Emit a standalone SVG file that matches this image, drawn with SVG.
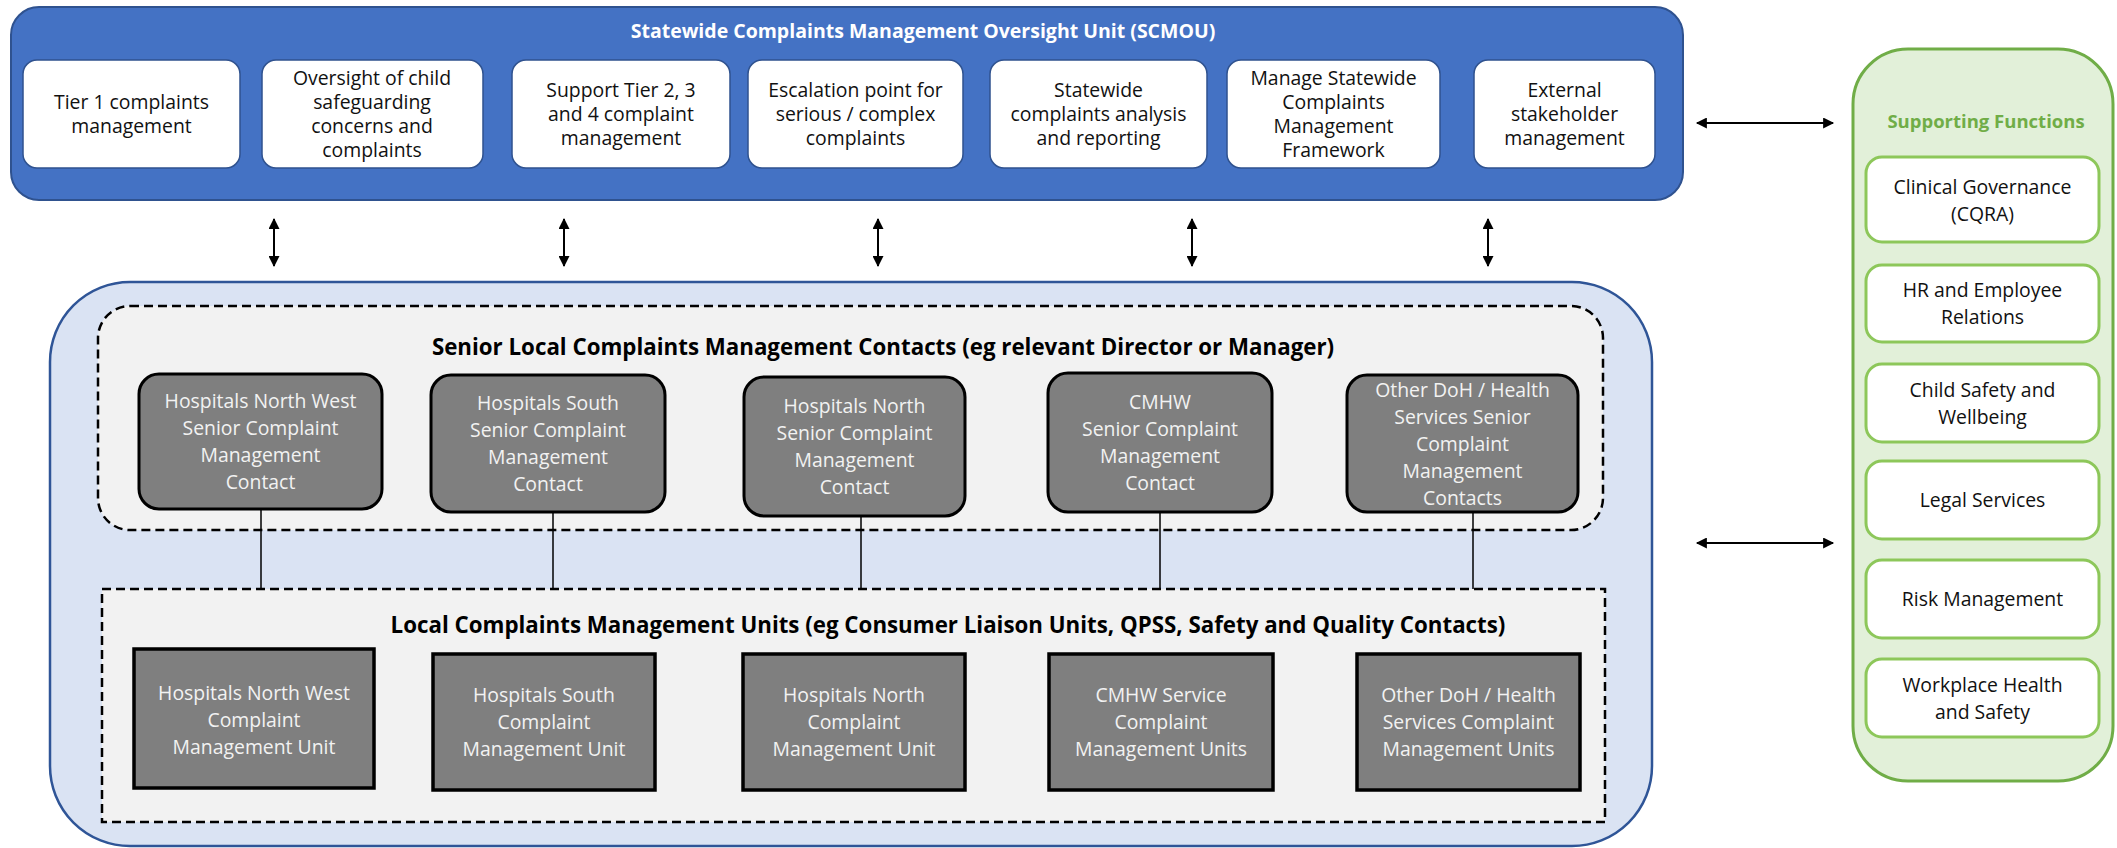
<svg xmlns="http://www.w3.org/2000/svg" width="2117" height="848" viewBox="0 0 2117 848">
<defs>
<marker id="ah" viewBox="0 0 10 10" refX="9" refY="5" markerWidth="12" markerHeight="11" markerUnits="userSpaceOnUse" orient="auto-start-reverse">
<path d="M0,0 L10,5 L0,10 z" fill="#000"/>
</marker>
<style>
text{font-family:"Open Sans","Noto Sans","Liberation Sans",sans-serif;text-anchor:middle}
.t17{font-size:19.4px}
.wt{fill:#111}
.gt{fill:#f2f2f2}
.title{font-size:22.3px;font-weight:bold;fill:#000}
.wbox{fill:#fff;stroke:#2F528F;stroke-width:1.5}
.sbox{fill:#7F7F7F;stroke:#000;stroke-width:3}
.lbox{fill:#7F7F7F;stroke:#000;stroke-width:3.5}
.gbox{fill:#fff;stroke:#8DC75A;stroke-width:3}
.dash{fill:#F2F2F2;stroke:#000;stroke-width:2.5;stroke-dasharray:9 5}
.conn{stroke:#000;stroke-width:1.5;fill:none}
.arr{stroke:#000;stroke-width:2;fill:none;marker-start:url(#ah);marker-end:url(#ah)}
</style>
</defs>

<g id="scmou">
<rect x="11" y="7" width="1672" height="193" rx="28" fill="#4472C4" stroke="#2F528F" stroke-width="2"/>
<text x="923" y="38" style="font-size:19.5px;font-weight:bold;fill:#fff">Statewide Complaints Management Oversight Unit (SCMOU)</text>
</g>

<g id="tier1">
<rect class="wbox" x="23" y="60" width="217" height="108" rx="14"/>
<text class="t17 wt" x="131.5" y="109">Tier 1 complaints</text>
<text class="t17 wt" x="131.5" y="133">management</text>
</g>
<g id="oversight">
<rect class="wbox" x="262" y="60" width="221" height="108" rx="14"/>
<text class="t17 wt" x="372" y="85">Oversight of child</text>
<text class="t17 wt" x="372" y="109">safeguarding</text>
<text class="t17 wt" x="372" y="133">concerns and</text>
<text class="t17 wt" x="372" y="157">complaints</text>
</g>
<g id="support">
<rect class="wbox" x="512" y="60" width="218" height="108" rx="14"/>
<text class="t17 wt" x="621" y="97">Support Tier 2, 3</text>
<text class="t17 wt" x="621" y="121">and 4 complaint</text>
<text class="t17 wt" x="621" y="145">management</text>
</g>
<g id="escalation">
<rect class="wbox" x="748" y="60" width="215" height="108" rx="14"/>
<text class="t17 wt" x="855.5" y="97">Escalation point for</text>
<text class="t17 wt" x="855.5" y="121">serious / complex</text>
<text class="t17 wt" x="855.5" y="145">complaints</text>
</g>
<g id="analysis">
<rect class="wbox" x="990" y="60" width="217" height="108" rx="14"/>
<text class="t17 wt" x="1098.5" y="97">Statewide</text>
<text class="t17 wt" x="1098.5" y="121">complaints analysis</text>
<text class="t17 wt" x="1098.5" y="145">and reporting</text>
</g>
<g id="framework">
<rect class="wbox" x="1227" y="60" width="213" height="108" rx="14"/>
<text class="t17 wt" x="1333.5" y="85">Manage Statewide</text>
<text class="t17 wt" x="1333.5" y="109">Complaints</text>
<text class="t17 wt" x="1333.5" y="133">Management</text>
<text class="t17 wt" x="1333.5" y="157">Framework</text>
</g>
<g id="external">
<rect class="wbox" x="1474" y="60" width="181" height="108" rx="14"/>
<text class="t17 wt" x="1564.5" y="97">External</text>
<text class="t17 wt" x="1564.5" y="121">stakeholder</text>
<text class="t17 wt" x="1564.5" y="145">management</text>
</g>

<g id="local-container">
<rect x="50" y="282" width="1602" height="564" rx="80" fill="#DAE3F3" stroke="#2F5597" stroke-width="2.5"/>
</g>

<g id="senior-group">
<rect class="dash" x="98" y="306" width="1505" height="224" rx="32"/>
<text class="title" x="883" y="355">Senior Local Complaints Management Contacts (eg relevant Director or Manager)</text>
</g>

<g id="senior-nw">
<rect class="sbox" x="139" y="374" width="243" height="135" rx="20"/>
<text class="t17 gt" x="260.5" y="408">Hospitals North West</text>
<text class="t17 gt" x="260.5" y="435">Senior Complaint</text>
<text class="t17 gt" x="260.5" y="462">Management</text>
<text class="t17 gt" x="260.5" y="489">Contact</text>
</g>
<g id="senior-south">
<rect class="sbox" x="431" y="375" width="234" height="137" rx="20"/>
<text class="t17 gt" x="548" y="410">Hospitals South</text>
<text class="t17 gt" x="548" y="437">Senior Complaint</text>
<text class="t17 gt" x="548" y="464">Management</text>
<text class="t17 gt" x="548" y="491">Contact</text>
</g>
<g id="senior-north">
<rect class="sbox" x="744" y="377" width="221" height="139" rx="20"/>
<text class="t17 gt" x="854.5" y="413">Hospitals North</text>
<text class="t17 gt" x="854.5" y="440">Senior Complaint</text>
<text class="t17 gt" x="854.5" y="467">Management</text>
<text class="t17 gt" x="854.5" y="494">Contact</text>
</g>
<g id="senior-cmhw">
<rect class="sbox" x="1048" y="373" width="224" height="139" rx="20"/>
<text class="t17 gt" x="1160" y="409">CMHW</text>
<text class="t17 gt" x="1160" y="436">Senior Complaint</text>
<text class="t17 gt" x="1160" y="463">Management</text>
<text class="t17 gt" x="1160" y="490">Contact</text>
</g>
<g id="senior-other">
<rect class="sbox" x="1347" y="375" width="231" height="137" rx="20"/>
<text class="t17 gt" x="1462.5" y="397">Other DoH / Health</text>
<text class="t17 gt" x="1462.5" y="424">Services Senior</text>
<text class="t17 gt" x="1462.5" y="451">Complaint</text>
<text class="t17 gt" x="1462.5" y="478">Management</text>
<text class="t17 gt" x="1462.5" y="505">Contacts</text>
</g>

<g id="local-group">
<rect class="dash" x="102" y="589" width="1503" height="233"/>
<text class="title" x="948" y="633">Local Complaints Management Units (eg Consumer Liaison Units, QPSS, Safety and Quality Contacts)</text>
</g>

<g id="local-nw">
<rect class="lbox" x="134" y="649" width="240" height="139"/>
<text class="t17 gt" x="254" y="700">Hospitals North West</text>
<text class="t17 gt" x="254" y="727">Complaint</text>
<text class="t17 gt" x="254" y="754">Management Unit</text>
</g>
<g id="local-south">
<rect class="lbox" x="433" y="654" width="222" height="136"/>
<text class="t17 gt" x="544" y="702">Hospitals South</text>
<text class="t17 gt" x="544" y="729">Complaint</text>
<text class="t17 gt" x="544" y="756">Management Unit</text>
</g>
<g id="local-north">
<rect class="lbox" x="743" y="654" width="222" height="136"/>
<text class="t17 gt" x="854" y="702">Hospitals North</text>
<text class="t17 gt" x="854" y="729">Complaint</text>
<text class="t17 gt" x="854" y="756">Management Unit</text>
</g>
<g id="local-cmhw">
<rect class="lbox" x="1049" y="654" width="224" height="136"/>
<text class="t17 gt" x="1161" y="702">CMHW Service</text>
<text class="t17 gt" x="1161" y="729">Complaint</text>
<text class="t17 gt" x="1161" y="756">Management Units</text>
</g>
<g id="local-other">
<rect class="lbox" x="1357" y="654" width="223" height="136"/>
<text class="t17 gt" x="1468.5" y="702">Other DoH / Health</text>
<text class="t17 gt" x="1468.5" y="729">Services Complaint</text>
<text class="t17 gt" x="1468.5" y="756">Management Units</text>
</g>

<g id="supporting">
<rect x="1853" y="49" width="260" height="732" rx="55" fill="#E2F0D9" stroke="#70AD47" stroke-width="3"/>
<text x="1986" y="128" style="font-size:18.5px;font-weight:bold;fill:#70AD47">Supporting Functions</text>
</g>
<g id="sf-clinical">
<rect class="gbox" x="1866" y="157" width="233" height="85" rx="16"/>
<text class="t17 wt" x="1982.5" y="194">Clinical Governance</text>
<text class="t17 wt" x="1982.5" y="221">(CQRA)</text>
</g>
<g id="sf-hr">
<rect class="gbox" x="1866" y="265" width="233" height="77" rx="16"/>
<text class="t17 wt" x="1982.5" y="297">HR and Employee</text>
<text class="t17 wt" x="1982.5" y="324">Relations</text>
</g>
<g id="sf-child">
<rect class="gbox" x="1866" y="364" width="233" height="78" rx="16"/>
<text class="t17 wt" x="1982.5" y="397">Child Safety and</text>
<text class="t17 wt" x="1982.5" y="424">Wellbeing</text>
</g>
<g id="sf-legal">
<rect class="gbox" x="1866" y="461" width="233" height="78" rx="16"/>
<text class="t17 wt" x="1982.5" y="507">Legal Services</text>
</g>
<g id="sf-risk">
<rect class="gbox" x="1866" y="560" width="233" height="78" rx="16"/>
<text class="t17 wt" x="1982.5" y="606">Risk Management</text>
</g>
<g id="sf-whs">
<rect class="gbox" x="1866" y="659" width="233" height="78" rx="16"/>
<text class="t17 wt" x="1982.5" y="692">Workplace Health</text>
<text class="t17 wt" x="1982.5" y="719">and Safety</text>
</g>

<g id="connectors">
<line class="arr" x1="274" y1="219" x2="274" y2="266"/>
<line class="arr" x1="564" y1="219" x2="564" y2="266"/>
<line class="arr" x1="878" y1="219" x2="878" y2="266"/>
<line class="arr" x1="1192" y1="219" x2="1192" y2="266"/>
<line class="arr" x1="1488" y1="219" x2="1488" y2="266"/>
<line class="arr" x1="1697" y1="123" x2="1833" y2="123"/>
<line class="arr" x1="1697" y1="543" x2="1833" y2="543"/>
<line class="conn" x1="261" y1="509" x2="261" y2="589"/>
<line class="conn" x1="553" y1="512" x2="553" y2="589"/>
<line class="conn" x1="861" y1="516" x2="861" y2="589"/>
<line class="conn" x1="1160" y1="512" x2="1160" y2="589"/>
<line class="conn" x1="1473" y1="512" x2="1473" y2="589"/>
</g>
</svg>
